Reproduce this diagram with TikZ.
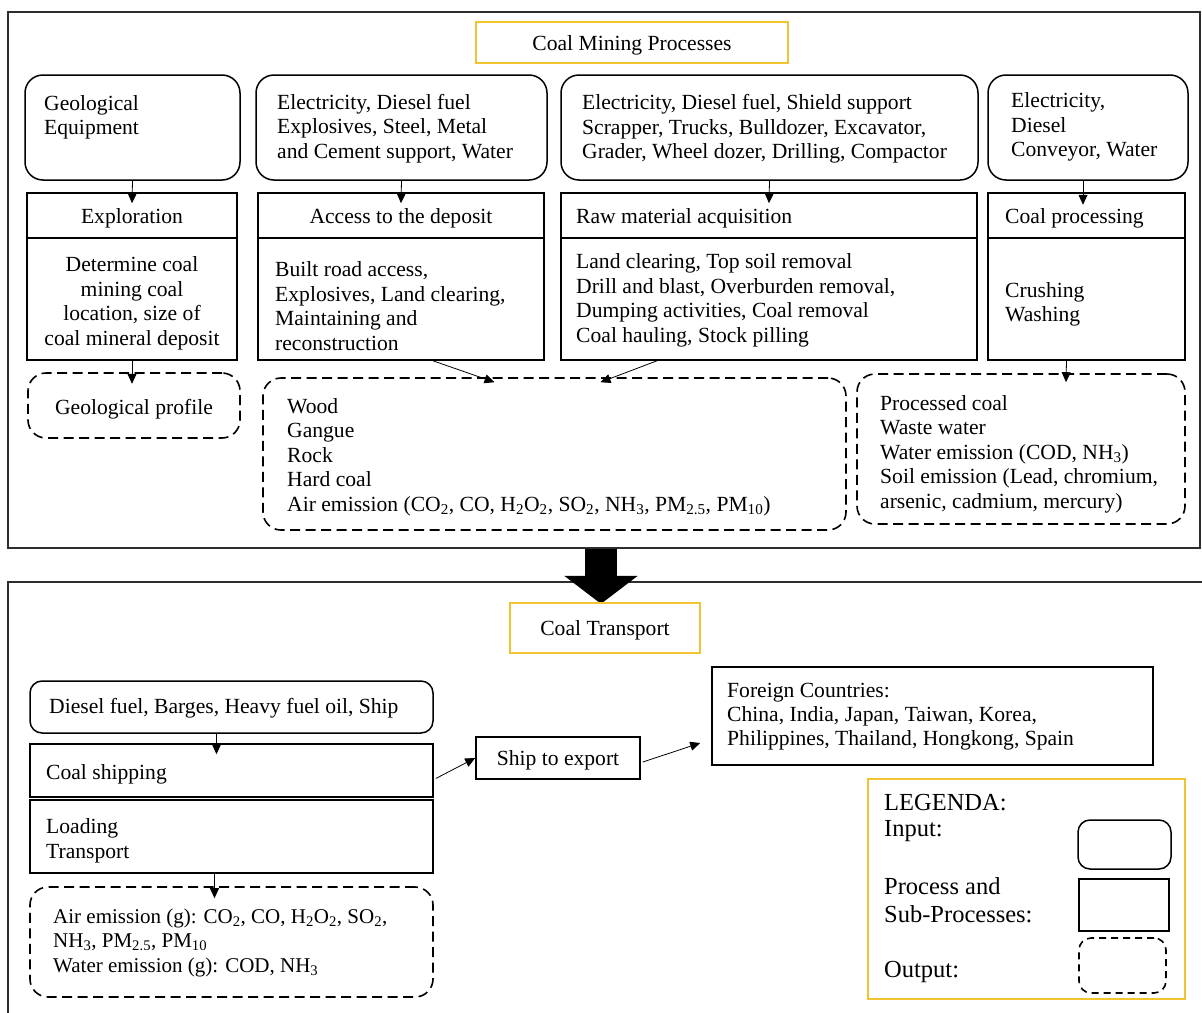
\documentclass[tikz,border=0pt]{standalone}
\usepackage{fontspec}
\setmainfont{Liberation Serif}
\usetikzlibrary{arrows.meta,calc,fit}
\definecolor{ylw}{RGB}{242,196,48}
\definecolor{frm}{RGB}{45,45,45}
\begin{document}
\begin{tikzpicture}[x=1pt,y=-1pt,
  every node/.style={font=\fontsize{21.6}{24.5}\selectfont},
  frame/.style={draw=frm,line width=1.7pt,inner sep=0pt},
  ttl/.style={draw=ylw,line width=1.8pt,inner sep=0pt},
  inbox/.style={draw,line width=1.5pt,rounded corners=18pt,inner sep=0pt},
  pbox/.style={draw,line width=1.6pt,inner sep=0pt},
  obox/.style={draw,line width=1.6pt,dash pattern=on 10pt off 5.5pt,rounded corners=18pt,inner sep=0pt},
  txt/.style={inner sep=0pt,align=left,anchor=west,yshift=-2.5pt},
  ctxt/.style={inner sep=0pt,align=center,yshift=-2.5pt},
  lgtxt/.style={inner sep=0pt,align=left,anchor=west,font=\fontsize{24.5}{28}\selectfont},
  small/.style={font=\fontsize{21}{24.5}\selectfont},
  arr/.style={-{Triangle[length=10pt,width=9pt]},line width=0.8pt},
]
\useasboundingbox (0,0) rectangle (1202,1012);
\clip (0,0) rectangle (1202,1012);
% frames
\node[frame,fit={(8,12) (1200,548)}] (topf) {};
\node[frame,fit={(8,582) (1215,1030)}] (botf) {};
% ---------- top ----------
\node[ttl,fit={(476,22) (788,63)}] (t1) {};
\node[ctxt] (t1txt) at (t1.center) {Coal Mining Processes};

\node[inbox,fit={(25,75) (240,180)}] (in1) {};
\node[inbox,fit={(256,75) (547,180)}] (in2) {};
\node[inbox,fit={(561,75) (978,180)}] (in3) {};
\node[inbox,fit={(988,75) (1188,180)}] (in4) {};
\node[txt] (in1t) at (44,115) {Geological\\Equipment};
\node[txt] (in2t) at (277,126) {Electricity, Diesel fuel\\Explosives, Steel, Metal\\and Cement support, Water};
\node[txt] (in3t) at (582,126.5) {Electricity, Diesel fuel, Shield support\\Scrapper, Trucks, Bulldozer, Excavator,\\Grader, Wheel dozer, Drilling, Compactor};
\node[txt] (in4t) at (1011,124.5) {Electricity,\\Diesel\\Conveyor, Water};

\node[pbox,fit={(27,193) (237,238)}] (h1) {};
\node[pbox,fit={(258,193) (544,238)}] (h2) {};
\node[pbox,fit={(561,193) (977,238)}] (h3) {};
\node[pbox,fit={(988,193) (1185,238)}] (h4) {};
\node[ctxt] (h1t) at (h1.center) {Exploration};
\node[ctxt] (h2t) at (h2.center) {Access to the deposit};
\node[txt] (h3t) at (576,216) {Raw material acquisition};
\node[txt] (h4t) at (1005,216) {Coal processing};

\node[pbox,fit={(27,238) (237,360)}] (s1) {};
\node[pbox,fit={(258,238) (544,360)}] (s2) {};
\node[pbox,fit={(561,238) (977,360)}] (s3) {};
\node[pbox,fit={(988,238) (1185,360)}] (s4) {};
\node[ctxt] (s1t) at (132,301) {Determine coal\\mining coal\\location, size of\\coal mineral deposit};
\node[txt] (s2t) at (275,303.5) {Built road access,\\Explosives, Land clearing,\\Maintaining and\\reconstruction};
\node[txt] (s3t) at (576,298) {Land clearing, Top soil removal\\Drill and blast, Overburden removal,\\Dumping activities, Coal removal\\Coal hauling, Stock pilling};
\node[txt] (s4t) at (1005,302) {Crushing\\Washing};

\node[obox,fit={(28,373) (240,438)}] (o1) {};
\node[obox,fit={(263,378) (846,530)}] (o2) {};
\node[obox,fit={(857,374) (1185,524)}] (o3) {};
\node[ctxt] (o1t) at (134,407) {Geological profile};
\node[txt] (o2t) at (287,454.5) {Wood\\Gangue\\Rock\\Hard coal\\Air emission (CO\textsubscript{2}, CO, H\textsubscript{2}O\textsubscript{2}, SO\textsubscript{2}, NH\textsubscript{3}, PM\textsubscript{2.5}, PM\textsubscript{10})};
\node[txt] (o3t) at (880,451.5) {Processed coal\\Waste water\\Water emission (COD, NH\textsubscript{3})\\Soil emission (Lead, chromium,\\arsenic, cadmium, mercury)};

\draw[arr] (in1.south) -- ($(h1.north)+(0,11)$);
\draw[arr] (in2.south) -- ($(h2.north)+(0,11)$);
\draw[arr] (in3.south) -- ($(h3.north)+(0,11)$);
\draw[arr] ($(in4.south)+(-5,0)$) -- ($(in4.south)+(-5,24)$);
\draw[arr] (s1.south) -- ($(s1.south)+(0,23)$);
\draw[arr] ($(s2.south)+(32,0)$) -- ($(o2.north)+(-60,5)$);
\draw[arr] ($(s3.south)+(-112,0)$) -- ($(o2.north)+(46,5)$);
\draw[arr] ($(s4.south)+(-20,0)$) -- ($(o3.north)+(45,9)$);

% big arrow
\draw[line width=32pt,-{Triangle[length=28pt,width=72pt]}] ($(topf.south)+(-3,0)$) -- ($(topf.south)+(-3,55)$);

% ---------- bottom ----------
\node[ttl,fit={(510,603) (700,653)}] (t2) {};
\node[ctxt] (t2txt) at (t2.center) {Coal Transport};

\node[inbox,rounded corners=12pt,fit={(30,681) (433,733)}] (bin) {};
\node[pbox,fit={(30,744) (433,797)}] (bh) {};
\node[pbox,fit={(30,800) (433,873)}] (bs) {};
\node[obox,fit={(30,887) (433,997)}] (bo) {};
\node[txt] (bint) at (49,706) {Diesel fuel, Barges, Heavy fuel oil, Ship};
\node[txt] (bht) at (46,772) {Coal shipping};
\node[txt] (bst) at (46,838.5) {Loading\\Transport};
\node[txt,small] (bot) at (53,940) {Air emission (g): CO\textsubscript{2}, CO, H\textsubscript{2}O\textsubscript{2}, SO\textsubscript{2},\\NH\textsubscript{3}, PM\textsubscript{2.5}, PM\textsubscript{10}\\Water emission (g): COD, NH\textsubscript{3}};

\node[pbox,fit={(476,737) (640,779)}] (ship) {};
\node[ctxt] (shipt) at (ship.center) {Ship to export};
\node[pbox,fit={(712,667) (1153,765)}] (fc) {};
\node[txt,font=\fontsize{21.6}{24}\selectfont] (fct) at (727,714) {Foreign Countries:\\China, India, Japan, Taiwan, Korea,\\Philippines, Thailand, Hongkong, Spain};

\draw[arr] ($(bin.south)+(-15,0)$) -- ($(bh.north)+(-15,11)$);
\draw[arr] ($(bs.south)+(-17,0)$) -- ($(bo.north)+(-17,12)$);
\draw[arr] ($(bh.east)+(2,8)$) -- (ship.west);
\draw[arr] ($(ship.east)+(2,4)$) -- ($(fc.west)+(-11,27)$);

% legend
\node[ttl,fit={(868,779) (1185,999)}] (lg) {};
\node[lgtxt] (lg1) at (884,803) {LEGENDA:};
\node[lgtxt] (lg2) at (884,831) {Input:};
\node[lgtxt] (lg3) at (884,900) {Process and\\Sub-Processes:};
\node[lgtxt] (lg4) at (884,972) {Output:};
\node[inbox,rounded corners=12pt,fit={(1078,820) (1171,869)}] (lgi) {};
\node[pbox,fit={(1079,879) (1169,931)}] (lgp) {};
\node[obox,rounded corners=12pt,dash pattern=on 7pt off 5pt,fit={(1079,938) (1166,993)}] (lgo) {};
\end{tikzpicture}
\end{document}
